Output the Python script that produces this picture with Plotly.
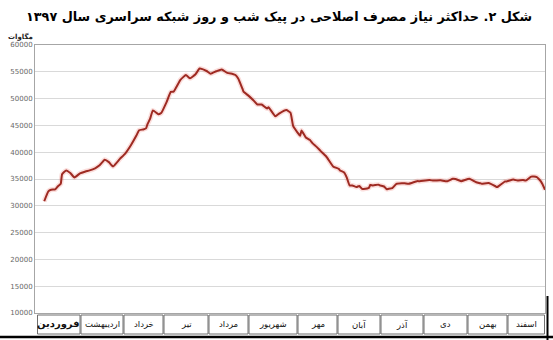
import plotly.graph_objects as go

# ---- data ----
days = [1, 4, 6, 9, 11, 13, 14, 17, 20, 23, 27, 31, 34, 38, 41, 45, 48, 51, 56, 60,
        64, 68, 70, 73, 75, 76, 78, 80, 84, 86, 90, 93, 95, 100, 104, 107, 111, 114, 119, 122,
        126, 130, 134, 138, 140, 142, 145, 146, 149, 153, 156, 159, 163, 164, 169, 172, 177, 180, 182, 185,
        187, 188, 191, 194, 196, 199, 202, 206, 211, 215, 216, 219, 221, 223, 225, 228, 230, 232, 233, 237,
        238, 240, 244, 245, 248, 250, 251, 254, 257, 261, 263, 266, 272, 274, 281, 284, 289, 294, 298, 300,
        304, 310, 315, 318, 319, 324, 329, 330, 331, 336, 337, 342, 345, 349, 351, 355, 357, 359, 360, 362,
        363, 365]
demand = [30850, 32700, 33000, 33050, 33650, 34100, 35900, 36600, 36100, 35300, 36050, 36400, 36600, 37000, 37500, 38600, 38150, 37350, 38750, 39800,
          41300, 43100, 44100, 44250, 44450, 45200, 46250, 47800, 47100, 47300, 49400, 51250, 51300, 53500, 54400, 53800, 54550, 55600, 55150, 54650,
          55100, 55450, 54800, 54600, 54400, 53750, 51900, 51250, 50650, 49700, 48900, 48900, 48150, 48400, 46700, 47250, 47850, 47350, 44850, 43700,
          43050, 44050, 42800, 42300, 41700, 41000, 40200, 39200, 37350, 36900, 36600, 36200, 35200, 33800, 33800, 33500, 33700, 33150, 33150, 33350,
          33900, 33800, 33950, 33800, 33600, 33100, 33150, 33300, 34100, 34200, 34200, 34100, 34600, 34600, 34800, 34700, 34750, 34600, 35050, 35000,
          34600, 35050, 34400, 34200, 34100, 34250, 33650, 33500, 33600, 34550, 34550, 34900, 34700, 34800, 34700, 35450, 35450, 35350, 35150, 34550,
          34100, 33000]
months = ["فروردین", "اردیبهشت", "خرداد", "تیر", "مرداد", "شهریور",
          "مهر", "آبان", "آذر", "دی", "بهمن", "اسفند"]
y_ticks = [10000, 15000, 20000, 25000, 30000, 35000, 40000, 45000, 50000, 55000, 60000]
title_text = "شکل ۲. حداکثر نیاز مصرف اصلاحی در پیک شب و روز شبکه سراسری سال ۱۳۹۷"
unit_text = "مگاوات"

# ---- layout geometry (pixels) ----
W, H = 553, 340
L, R, T, B = 35, 8, 45, 27
pw, ph = W - L - R, H - T - B


def px(x):
    return (x - L) / pw


def py(y):
    return (H - B - y) / ph


FONT = "DejaVu Sans"

fig = go.Figure()
fig.add_trace(go.Scatter(x=days, y=demand, mode="lines",
                         line=dict(color="rgba(235,90,80,0.2)", width=5, shape="spline", smoothing=0.4),
                         hoverinfo="skip", showlegend=False))
fig.add_trace(go.Scatter(x=days, y=demand, mode="lines",
                         line=dict(color="#9e2a22", width=2, shape="spline", smoothing=0.4),
                         showlegend=False))

shapes = []
annotations = []

# month table cells
cell_edges = [37, 80.5, 123.5, 163.5, 208.5, 248.5, 297.5, 337.5, 380.5, 423.5, 467.5, 507.5, 545]
for i, name in enumerate(months):
    x0, x1 = cell_edges[i] + 0.5, cell_edges[i + 1] - 0.5
    shapes.append(dict(type="rect", xref="paper", yref="paper",
                       x0=px(x0), x1=px(x1), y0=py(334), y1=py(315),
                       line=dict(color="#6f6f6f", width=1), fillcolor="white", layer="above"))
    first = (i == 0)
    annotations.append(dict(xref="paper", yref="paper", x=px((x0 + x1) / 2), y=py(324),
                            text=("<b>%s</b>" % name) if first else name, showarrow=False,
                            font=dict(family=FONT, size=10 if first else 8.5, color="#111"),
                            xanchor="center", yanchor="middle"))

# bottom thick line & right edge
shapes.append(dict(type="line", xref="paper", yref="paper", x0=px(0), x1=px(W), y0=py(337), y1=py(337),
                   line=dict(color="black", width=2.5)))
shapes.append(dict(type="line", xref="paper", yref="paper", x0=px(547.5), x1=px(547.5), y0=py(296), y1=py(340),
                   line=dict(color="black", width=2)))

annotations.append(dict(xref="paper", yref="paper", x=px(W / 2 + 2), y=py(16), text="<b>%s</b>" % title_text,
                        showarrow=False, font=dict(family=FONT, size=12.8, color="black"),
                        xanchor="center", yanchor="middle"))
annotations.append(dict(xref="paper", yref="paper", x=px(20), y=py(36), text="<b>%s</b>" % unit_text,
                        showarrow=False, font=dict(family=FONT, size=7, color="#222"),
                        xanchor="center", yanchor="middle"))

fig.update_layout(
    width=W, height=H,
    margin=dict(l=L, r=R, t=T, b=B),
    paper_bgcolor="white", plot_bgcolor="white",
    shapes=shapes, annotations=annotations,
    xaxis=dict(range=[-5.7, 365], showgrid=False, showticklabels=False, zeroline=False,
               showline=True, linecolor="#a6a6a6", mirror=True, linewidth=1, fixedrange=True),
    yaxis=dict(range=[10000, 60000], tickvals=y_ticks, ticktext=[str(v) for v in y_ticks],
               showgrid=True, gridcolor="#d9d9d9", gridwidth=1, zeroline=False,
               showline=True, linecolor="#a6a6a6", mirror=True, linewidth=1,
               tickfont=dict(family=FONT, size=7, color="#666"), ticks="", ticklen=0, fixedrange=True),
)

fig.write_html("out.html")
